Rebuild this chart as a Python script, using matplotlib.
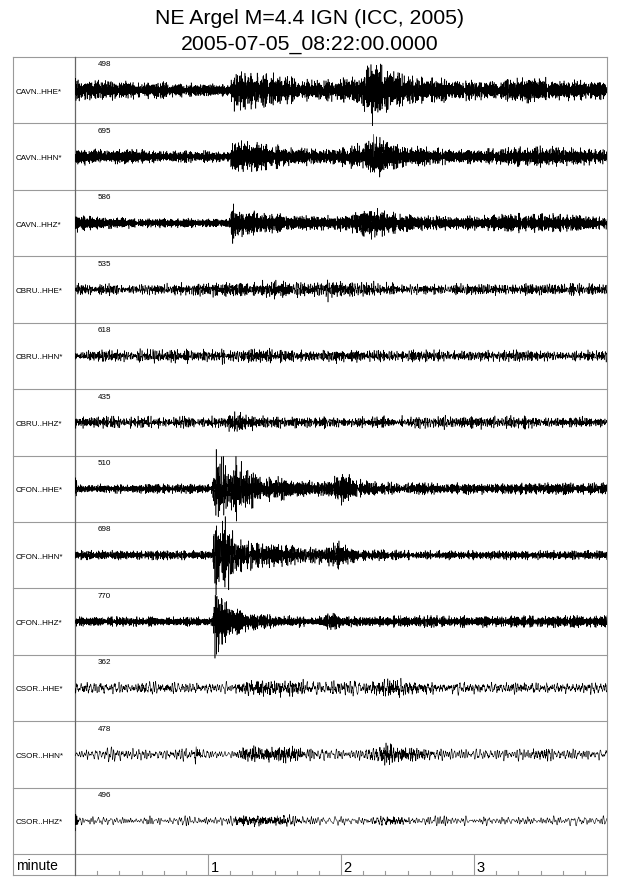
import numpy as np
import matplotlib
matplotlib.use("Agg")
import matplotlib.pyplot as plt

plt.rcParams['font.family'] = ['Liberation Sans', 'DejaVu Sans']

# ---------------- data ----------------
TITLE = "NE Argel M=4.4 IGN (ICC, 2005)"
SUBTITLE = "2005-07-05_08:22:00.0000"
stations = ["CAVN..HHE*", "CAVN..HHN*", "CAVN..HHZ*",
            "CBRU..HHE*", "CBRU..HHN*", "CBRU..HHZ*",
            "CFON..HHE*", "CFON..HHN*", "CFON..HHZ*",
            "CSOR..HHE*", "CSOR..HHN*", "CSOR..HHZ*"]
max_counts = ["498", "695", "586", "535", "618", "435",
              "510", "698", "770", "362", "478", "496"]
minute_ticks = [1, 2, 3]
duration_s = 240

# envelope knots (seconds) and peak half-amplitude (pixels) read per trace
env_t = [
    [0, 2, 10, 20, 30, 40, 50, 60, 70, 71, 75, 80, 90, 100, 110, 120, 128, 132, 134, 137, 142, 150, 160, 170, 180, 190, 200, 210, 220, 230, 240],
    [0, 5, 10, 20, 30, 40, 50, 60, 70, 71, 75, 80, 90, 100, 110, 120, 128, 132, 135, 140, 150, 160, 170, 180, 190, 200, 210, 220, 230, 240],
    [0, 5, 10, 20, 30, 40, 50, 60, 70, 71, 72, 75, 80, 90, 100, 110, 120, 128, 132, 135, 140, 150, 160, 170, 180, 190, 200, 210, 220, 230, 240],
    [0, 10, 20, 30, 40, 50, 60, 70, 80, 90, 100, 110, 114, 120, 130, 140, 150, 160, 170, 180, 240],
    [0, 20, 40, 60, 70, 78, 85, 95, 110, 120, 130, 140, 150, 240],
    [0, 60, 68, 72, 76, 82, 90, 100, 120, 135, 140, 145, 160, 170, 240],
    [0, 1, 3, 10, 60, 62, 63, 66, 70, 73, 77, 85, 95, 105, 112, 117, 121, 124, 128, 135, 150, 240],
    [0, 60, 62, 63, 66, 69, 71, 75, 80, 90, 100, 108, 115, 120, 124, 130, 150, 240],
    [0, 60, 62, 63, 64, 67, 70, 75, 85, 95, 110, 116, 120, 240],
    [0, 60, 70, 75, 80, 90, 100, 110, 120, 130, 137, 141, 145, 150, 160, 170, 240],
    [0, 40, 53, 55, 57, 65, 72, 78, 85, 92, 100, 110, 130, 137, 141, 146, 152, 160, 170, 205, 211, 215, 240],
    [0, 1, 3, 10, 70, 74, 78, 85, 92, 100, 110, 130, 137, 141, 146, 155, 240],
]
env_a = [
    [14, 10, 9, 8, 7, 7, 6, 6, 6, 17, 17, 15, 14, 10, 8, 10, 12, 20, 29, 22, 16, 12, 10, 10, 8, 8, 10, 11, 9, 8, 8],
    [8, 8, 6, 6, 6, 5, 5, 5, 4, 16, 15, 12, 10, 8, 7, 8, 11, 16, 19, 14, 9, 8, 6, 6, 7, 8, 9, 8, 7, 7],
    [8, 6, 5, 5, 4, 4, 4, 4, 4, 20, 12, 12, 10, 8, 7, 6, 7, 9, 12, 14, 10, 7, 6, 6, 6, 7, 8, 9, 7, 6, 6],
    [7, 7, 5, 5, 5, 6, 8, 9, 9, 10, 9, 8, 12, 10, 9, 8, 6, 6, 5, 5, 5],
    [6, 6, 6, 7, 8, 10, 9, 8, 7, 8, 7, 6, 5, 5],
    [5, 5, 6, 13, 12, 9, 7, 6, 5, 6, 8, 6, 6, 6, 5],
    [10, 6, 4, 4, 4, 4, 32, 30, 25, 26, 18, 12, 9, 7, 6, 10, 14, 12, 8, 6, 5, 5],
    [4, 4, 4, 33, 28, 33, 20, 15, 12, 10, 8, 7, 9, 12, 9, 5, 4, 4],
    [4, 4, 4, 30, 26, 20, 15, 10, 6, 5, 5, 7, 5, 5],
    [7, 7, 5, 9, 10, 10, 9, 7, 8, 7, 10, 14, 11, 9, 8, 7, 7],
    [6, 6, 6, 11, 6, 5, 5, 12, 11, 11, 9, 6, 6, 10, 14, 10, 9, 7, 6, 6, 10, 6, 6],
    [14, 8, 4, 4, 4, 8, 8, 7, 7, 5, 4, 4, 6, 7, 6, 4, 4],
]
# frequency band (Hz) of the background noise and of the event arrivals,
# judged from the trace texture
noise_lo = [1.5, 1.5, 1.5, 0.7, 0.7, 0.7, 1.2, 1.2, 1.5, 0.3, 0.3, 0.3]
noise_hi = [8.0, 8.0, 8.0, 3.5, 3.5, 3.5, 6.0, 6.0, 7.0, 1.3, 1.3, 1.3]
event_lo = [1.5, 1.5, 1.5, 1.0, 1.0, 1.0, 1.2, 1.2, 1.5, 1.0, 1.0, 1.0]
event_hi = [8.0, 8.0, 8.0, 5.0, 5.0, 5.0, 6.0, 6.0, 7.0, 5.0, 5.0, 5.0]

# ---------------- figure ----------------
W, H = 640, 878
fig = plt.figure(figsize=(W / 100, H / 100), dpi=100)

def fx(px):
    return px / W

def fy(py):
    return 1 - py / H

X0, X1, Y0, Y1, YB = 13, 607, 58, 855, 876
LABX = 75
ROWH = (Y1 - Y0) / len(stations)
GRID = '#9a9a9a'

frame = fig.add_axes([0, 0, 1, 1])
frame.set_xlim(0, W)
frame.set_ylim(H, 0)
frame.axis('off')

for i in range(len(stations) + 1):
    y = Y0 + i * ROWH
    frame.plot([X0, X1], [y, y], color=GRID, lw=0.8)
frame.plot([X0, X1], [YB, YB], color=GRID, lw=0.8)
frame.plot([X0, X0], [Y0, YB], color=GRID, lw=0.8)
frame.plot([X1, X1], [Y0, YB], color=GRID, lw=0.8)
frame.plot([LABX, LABX], [Y0, YB], color='#666666', lw=0.9)

frame.text((X0 + X1) / 2, 18, TITLE, ha='center', va='center', fontsize=15.3)
frame.text((X0 + X1) / 2, 45, SUBTITLE, ha='center', va='center', fontsize=15.3)
frame.text(16, 866, "minute", ha='left', va='center', fontsize=10)

for i, name in enumerate(stations):
    frame.text(16, Y0 + (i + 0.5) * ROWH + 1, name, ha='left', va='center', fontsize=5.8)

# traces
ax = fig.add_axes([fx(LABX), fy(Y1), fx(X1) - fx(LABX), fy(Y0) - fy(Y1)])
ax.set_xlim(0, duration_s)
ax.set_ylim(len(stations), 0)
ax.axis('off')


def hash01(k):
    # deterministic scrambling of integer indices into [0, 1)
    v = np.sin(k * 12.9898 + 78.233) * 43758.5453
    return v - np.floor(v)


def carrier(t, lo, hi, offset, ncomp=160):
    k = np.arange(1, ncomp + 1) + offset
    fr = lo + (hi - lo) * hash01(k)
    ph = 2 * np.pi * hash01(k * 1.7 + 0.3)
    c = np.sin(2 * np.pi * fr[:, None] * t[None, :] + ph[:, None]).sum(0)
    return c / c.std()


fs = 40.0
t = np.arange(0, duration_s, 1 / fs)
for i in range(len(stations)):
    env = np.interp(t, env_t[i], env_a[i])
    base = min(env_a[i])
    c_noise = carrier(t, noise_lo[i], noise_hi[i], i * 1000.0)
    if noise_lo[i] == event_lo[i] and noise_hi[i] == event_hi[i]:
        sig = env * c_noise
    else:
        c_event = carrier(t, event_lo[i], event_hi[i], i * 1000.0 + 500.0)
        sig = base * c_noise + (env - base) * c_event
    sig_px = np.clip(sig / 2.2, -1.25 * env, 1.25 * env)
    ax.plot(t, i + 0.5 - sig_px / ROWH, color='black', lw=0.4)
    ax.text(10.3, i + 0.105, max_counts[i], ha='left', va='center', fontsize=5.8)

# minute axis row
axm = fig.add_axes([fx(LABX), fy(YB), fx(X1) - fx(LABX), fy(Y1) - fy(YB)])
axm.set_xlim(0, duration_s)
axm.set_ylim(0, 1)
axm.axis('off')
for m in minute_ticks:
    axm.plot([m * 60, m * 60], [0, 1], color=GRID, lw=0.8)
    axm.text(m * 60 + 1.2, 0.06, str(m), ha='left', va='bottom', fontsize=10.5)
for s in range(10, duration_s, 10):
    if s % 60:
        axm.plot([s, s], [0, 0.2], color=GRID, lw=0.8)

fig.savefig("out.png", dpi=100)
